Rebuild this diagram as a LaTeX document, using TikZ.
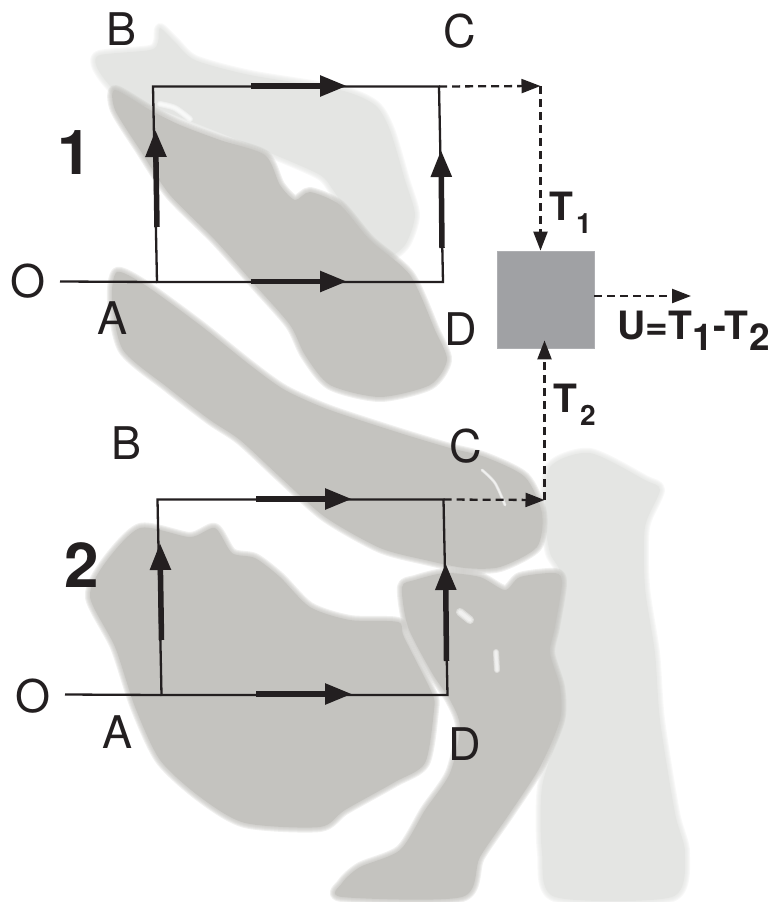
\documentclass[tikz,border=0pt]{standalone}
\usepackage{fontspec}
\setmainfont{TeX Gyre Heros}
\usetikzlibrary{arrows.meta}
\definecolor{bonedark}{HTML}{C4C3BF}
\definecolor{bonelight}{HTML}{E4E5E3}
\definecolor{boxgrey}{HTML}{A0A1A4}
\definecolor{inkblack}{HTML}{231F20}
\newcommand{\blurshape}[2]{%
  \foreach \wd in {10,8,6,4,2}{\draw[#1,opacity=.25,line width=\wd pt,line join=round] plot[smooth cycle,tension=.45] coordinates {#2};}%
  \fill[#1] plot[smooth cycle,tension=.45] coordinates {#2};}
\newcommand{\streak}[2]{%
  \foreach \wd in {1,.7,.4}{\draw[white,opacity=.4,line width=\wd*#1 pt,line cap=round] plot[smooth,tension=.5] coordinates {#2};}}
\tikzset{
  thinline/.style={inkblack,line width=2.3pt},
  boldarrow/.style={inkblack,line width=5.5pt,-{Triangle[length=27pt,width=20pt]}},
  dashedline/.style={inkblack,line width=2.3pt,dash pattern=on 8pt off 5pt},
  dashedarrow/.style={dashedline,-{Triangle[length=19pt,width=14pt]}},
  biglabel/.style={anchor=base,inner sep=0pt,font=\fontsize{45}{45}\selectfont,text=inkblack},
  numlabel/.style={anchor=base,inner sep=0pt,font=\fontsize{62}{62}\selectfont\bfseries,text=inkblack},
  boldlabel/.style={anchor=base west,inner sep=0pt,font=\fontsize{39}{39}\selectfont\bfseries,text=inkblack},
}
\begin{document}
\begin{tikzpicture}[x=1pt,y=-1pt]
\useasboundingbox (0,0) rectangle (779,902);
% light bones
\blurshape{bonelight}{(160,28)(175,42)(195,60)(250,75)(340,90)(375,105)(390,130)(405,180)(415,215)(405,245)(385,255)(350,215)(333,190)(320,175)(275,155)(200,125)(160,110)(125,100)(105,80)(96,65)(100,55)(150,50)(158,42)}
\blurshape{bonelight}{(550,467)(590,453)(645,480)(660,490)(645,527)(645,587)(655,653)(660,720)(675,813)(685,853)(672,897)(555,897)(542,853)(542,787)(560,720)(550,653)(562,580)(550,553)(545,517)}
% dark bones
\blurshape{bonedark}{(115,90)(150,110)(180,125)(220,140)(265,155)(280,185)(295,200)(310,192)(340,205)(370,240)(410,275)(435,330)(447,360)(430,385)(380,397)(330,385)(305,355)(290,325)(255,285)(215,240)(170,195)(140,150)(115,110)}
\blurshape{bonedark}{(117,272)(145,285)(200,325)(250,365)(285,390)(330,410)(400,433)(450,448)(485,457)(525,477)(542,513)(537,547)(500,567)(465,568)(425,560)(380,548)(325,517)(280,477)(240,440)(210,420)(167,387)(123,350)(112,300)}
\blurshape{bonedark}{(140,528)(190,537)(215,528)(232,553)(255,558)(280,577)(310,607)(350,620)(398,622)(404,637)(432,693)(434,710)(425,763)(395,782)(345,810)(320,827)(245,823)(200,797)(160,760)(135,707)(115,647)(90,597)(105,563)}
\blurshape{bonedark}{(402,587)(415,580)(445,573)(480,577)(505,590)(520,577)(555,573)(562,583)(555,627)(550,653)(560,687)(560,720)(540,767)(510,813)(480,857)(462,897)(342,897)(342,883)(360,867)(400,850)(425,810)(450,773)(460,727)(450,700)(432,673)(408,627)}
% highlights
\streak{6}{(160,104)(175,108)(190,119)}
\streak{3}{(482,470)(495,483)(505,505)}
\streak{8}{(460,612)(470,620)}
\streak{6}{(496,652)(497,670)}
% rectangle 1
\coordinate (O1) at (60,281.5);
\coordinate (A1) at (157,282);
\coordinate (B1) at (153,86.5);
\coordinate (C1) at (439,86.5);
\coordinate (D1) at (443,282);
\coordinate (AB1s) at (157,227);
\coordinate (AB1e) at (155.5,130);
\coordinate (DC1s) at (442,248);
\coordinate (DC1e) at (441,150);
\coordinate (BC1s) at (251,86);
\coordinate (BC1e) at (347,86);
\coordinate (AD1s) at (251,281.5);
\coordinate (AD1e) at (347,281.5);
\draw[thinline] (O1) -- (A1);
\draw[thinline,line join=miter] (A1) -- (D1) -- (C1) -- (B1) -- cycle;
\draw[boldarrow] (AB1s) -- (AB1e);
\draw[boldarrow] (DC1s) -- (DC1e);
\draw[boldarrow] (BC1s) -- (BC1e);
\draw[boldarrow] (AD1s) -- (AD1e);
% rectangle 2
\coordinate (O2) at (65,694.5);
\coordinate (A2) at (161.5,695);
\coordinate (B2) at (157.5,499.5);
\coordinate (C2) at (443.5,499.5);
\coordinate (D2) at (447.5,695);
\coordinate (AB2s) at (161.5,640);
\coordinate (AB2e) at (160,543);
\coordinate (DC2s) at (446.5,661);
\coordinate (DC2e) at (445.5,563);
\coordinate (BC2s) at (256,499);
\coordinate (BC2e) at (352,499);
\coordinate (AD2s) at (256,694);
\coordinate (AD2e) at (352,694);
\draw[thinline] (O2) -- (A2);
\draw[thinline,line join=miter] (A2) -- (D2) -- (C2) -- (B2) -- cycle;
\draw[boldarrow] (AB2s) -- (AB2e);
\draw[boldarrow] (DC2s) -- (DC2e);
\draw[boldarrow] (BC2s) -- (BC2e);
\draw[boldarrow] (AD2s) -- (AD2e);
% comparator
\node[draw=boxgrey!85!white,fill=boxgrey,line width=.8pt,minimum width=97pt,minimum height=97pt,inner sep=0pt] (box) at (545.5,299.5) {};
\coordinate (T1c) at (540.5,86);
\coordinate (T2c) at (544.5,500);
\coordinate (Uend) at (691,296);
\coordinate (boxout) at (594,296);
\draw[dashedarrow] (C1) -- (T1c);
\draw[dashedarrow] (T1c) -- (T1c |- box.north);
\draw[dashedarrow] (C2) -- (T2c);
\draw[dashedarrow,shorten >=-8pt] (T2c) -- (T2c |- box.south);
\draw[dashedarrow] (boxout) -- (Uend);
% labels
\node[biglabel] (lB1) at (122,45) {B};
\node[biglabel] (lC1) at (460,47) {C};
\node[biglabel] (lO1) at (28,297) {O};
\node[biglabel] (lA1) at (113,334) {A};
\node[biglabel] (lD1) at (461,345) {D};
\node[numlabel] (n1) at (75,174) {1};
\node[biglabel] (lB2) at (127,459) {B};
\node[biglabel] (lC2) at (466,462) {C};
\node[biglabel] (lO2) at (33,712) {O};
\node[biglabel] (lA2) at (118,748) {A};
\node[biglabel] (lD2) at (465,760) {D};
\node[numlabel] (n2) at (82,587) {2};
\node[boldlabel] (T1) at (549,220) {T\kern3pt\raisebox{-13pt}{\fontsize{28}{28}\selectfont 1}};
\node[boldlabel] (T2) at (553,412) {T\kern3pt\raisebox{-13pt}{\fontsize{28}{28}\selectfont 2}};
\node[boldlabel] (U) at (617,339) {U=T\kern1pt\raisebox{-11pt}{\fontsize{37}{37}\selectfont 1}-T\kern1pt\raisebox{-11pt}{\fontsize{37}{37}\selectfont 2}};
\end{tikzpicture}
\end{document}
